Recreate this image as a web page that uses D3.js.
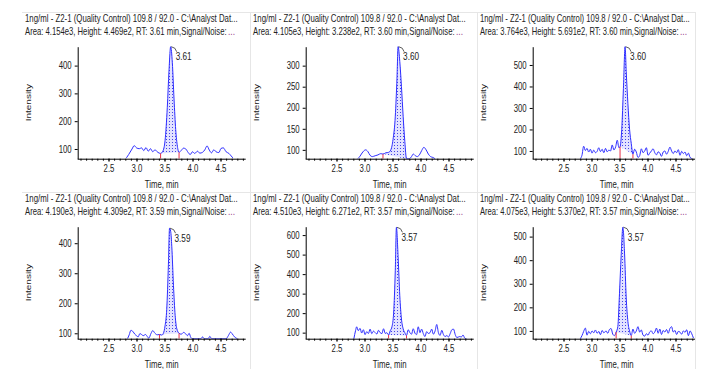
<!DOCTYPE html>
<html>
<head>
<meta charset="utf-8">
<script src="https://cdn.jsdelivr.net/npm/d3@7"></script>
<style>
  body { margin: 0; background: #fff; }
  svg { display: block; font-family: "Liberation Sans", Arial, sans-serif; }
</style>
</head>
<body>
<svg id="chart" width="707" height="369"></svg>
<script>
// --- data ---
const sampleTitle = '1ng/ml - Z2-1 (Quality Control) 109.8 / 92.0 - C:\\Analyst Dat...';
const peakInfo = [
  'Area: 4.154e3, Height: 4.469e2, RT: 3.61 min,Signal/Noise:',
  'Area: 4.105e3, Height: 3.238e2, RT: 3.60 min,Signal/Noise:',
  'Area: 3.764e3, Height: 5.691e2, RT: 3.60 min,Signal/Noise:',
  'Area: 4.190e3, Height: 4.309e2, RT: 3.59 min,Signal/Noise:',
  'Area: 4.510e3, Height: 6.271e2, RT: 3.57 min,Signal/Noise:',
  'Area: 4.075e3, Height: 5.370e2, RT: 3.57 min,Signal/Noise:'
];
const rtLabels = ['3.61', '3.60', '3.60', '3.59', '3.57', '3.57'];
const timeDomain = [1.95, 4.95];
const xTickValues = [2.5, 3.0, 3.5, 4.0, 4.5];
const yDomains = [[65, 468], [79, 345], [64, 585], [82, 455], [69, 643], [67, 542]];
const yTickValues = [
  [100, 200, 300, 400],
  [100, 150, 200, 250, 300],
  [100, 200, 300, 400, 500],
  [100, 200, 300, 400],
  [100, 200, 300, 400, 500, 600],
  [100, 200, 300, 400, 500]
];
// integration start / end (min)
const peakWindows = [[3.43, 3.76], [3.33, 3.75], [3.51, 3.74], [3.41, 3.76], [3.43, 3.75], [3.44, 3.71]];

const p1Time = [2.82, 2.86, 2.92, 2.96, 3.00, 3.05, 3.09, 3.13, 3.17, 3.21, 3.25, 3.29, 3.33, 3.38, 3.43, 3.47, 3.51, 3.55, 3.58, 3.61, 3.64, 3.67, 3.70, 3.73, 3.76, 3.80, 3.84, 3.88, 3.92, 3.96, 4.00, 4.04, 4.09, 4.13, 4.18, 4.22, 4.26, 4.30, 4.34, 4.38, 4.42, 4.47, 4.51, 4.55, 4.60, 4.65, 4.69, 4.72];
const p1Int = [68, 80, 100, 112, 104, 101, 104, 94, 105, 92, 101, 90, 97, 88, 84, 92, 130, 250, 380, 468, 410, 280, 170, 110, 88, 95, 103, 100, 88, 80, 90, 84, 92, 85, 88, 97, 111, 96, 86, 97, 90, 87, 102, 104, 90, 84, 75, 68];

const p2Time = [2.88, 2.92, 2.97, 3.02, 3.06, 3.10, 3.14, 3.19, 3.24, 3.29, 3.33, 3.38, 3.43, 3.47, 3.51, 3.55, 3.58, 3.60, 3.63, 3.66, 3.69, 3.72, 3.75, 3.80, 3.84, 3.87, 3.91, 3.94, 3.98, 4.02, 4.06, 4.10, 4.14, 4.18, 4.22, 4.26];
const p2Int = [79, 85, 95, 100, 96, 87, 84, 86, 88, 91, 90, 93, 94, 100, 125, 180, 270, 345, 310, 250, 180, 120, 79, 79, 84, 90, 86, 84, 88, 98, 106, 100, 90, 84, 82, 79];

const p3Time = [2.80, 2.83, 2.86, 2.89, 2.92, 2.95, 2.98, 3.01, 3.04, 3.07, 3.10, 3.13, 3.16, 3.19, 3.22, 3.25, 3.28, 3.31, 3.34, 3.37, 3.40, 3.43, 3.46, 3.49, 3.51, 3.54, 3.57, 3.60, 3.62, 3.65, 3.68, 3.71, 3.74, 3.77, 3.80, 3.83, 3.86, 3.89, 3.92, 3.95, 3.98, 4.01, 4.04, 4.07, 4.10, 4.13, 4.16, 4.19, 4.22, 4.25, 4.28, 4.31, 4.34, 4.37, 4.40, 4.43, 4.46, 4.49, 4.52, 4.55, 4.58, 4.61, 4.64, 4.67, 4.70, 4.73, 4.76, 4.80];
const p3Int = [64, 80, 122, 102, 112, 95, 108, 90, 104, 92, 98, 115, 97, 108, 92, 112, 96, 104, 100, 128, 105, 118, 150, 115, 120, 200, 390, 585, 470, 320, 200, 135, 85, 108, 95, 70, 78, 110, 92, 100, 115, 80, 90, 100, 110, 92, 82, 96, 90, 75, 95, 100, 85, 98, 118, 100, 88, 100, 92, 106, 80, 98, 88, 95, 78, 90, 70, 64];

const p4Time = [2.84, 2.87, 2.90, 2.94, 2.97, 3.00, 3.03, 3.06, 3.09, 3.12, 3.16, 3.19, 3.22, 3.26, 3.29, 3.33, 3.37, 3.41, 3.45, 3.48, 3.51, 3.54, 3.57, 3.59, 3.61, 3.63, 3.66, 3.69, 3.72, 3.76, 3.80, 3.84, 3.88, 3.91, 3.94, 3.97, 4.00, 4.15, 4.18, 4.21, 4.28, 4.31, 4.34, 4.60, 4.64, 4.68, 4.71, 4.75, 4.80];
const p4Int = [82, 95, 110, 105, 97, 92, 88, 99, 96, 92, 96, 90, 84, 100, 109, 100, 95, 96, 94, 100, 125, 180, 330, 450, 440, 390, 260, 160, 115, 100, 97, 103, 98, 92, 100, 86, 82, 82, 88, 82, 82, 90, 82, 82, 92, 104, 98, 88, 82];

const p5Time = [2.81, 2.84, 2.86, 2.89, 2.92, 2.95, 2.98, 3.01, 3.04, 3.07, 3.10, 3.13, 3.16, 3.19, 3.22, 3.25, 3.28, 3.31, 3.34, 3.37, 3.40, 3.43, 3.46, 3.49, 3.52, 3.55, 3.57, 3.60, 3.63, 3.66, 3.69, 3.72, 3.75, 3.78, 3.81, 3.84, 3.87, 3.90, 3.93, 3.96, 3.99, 4.02, 4.05, 4.08, 4.11, 4.14, 4.17, 4.20, 4.23, 4.26, 4.29, 4.32, 4.35, 4.38, 4.41, 4.44, 4.47, 4.50, 4.53, 4.56, 4.59, 4.62, 4.65, 4.70, 4.73, 4.76, 4.79, 4.82];
const p5Int = [69, 110, 130, 110, 122, 98, 115, 90, 105, 96, 118, 95, 108, 100, 93, 112, 100, 95, 120, 96, 100, 88, 110, 130, 200, 420, 640, 490, 290, 170, 120, 100, 85, 115, 100, 92, 120, 98, 90, 130, 100, 118, 95, 80, 105, 96, 100, 118, 92, 108, 142, 100, 86, 112, 90, 80, 85, 78, 95, 115, 118, 90, 75, 80, 78, 88, 72, 69];

const p6Time = [2.80, 2.83, 2.86, 2.89, 2.92, 2.95, 2.98, 3.01, 3.04, 3.07, 3.10, 3.13, 3.16, 3.19, 3.22, 3.26, 3.29, 3.32, 3.35, 3.38, 3.41, 3.44, 3.47, 3.50, 3.53, 3.56, 3.59, 3.62, 3.65, 3.68, 3.71, 3.74, 3.77, 3.80, 3.83, 3.86, 3.89, 3.92, 3.95, 3.98, 4.01, 4.04, 4.07, 4.10, 4.13, 4.16, 4.19, 4.22, 4.25, 4.28, 4.31, 4.34, 4.37, 4.40, 4.43, 4.46, 4.49, 4.52, 4.55, 4.58, 4.61, 4.64, 4.67, 4.70, 4.73, 4.76, 4.79, 4.82];
const p6Int = [67, 80, 98, 112, 82, 98, 88, 100, 92, 104, 90, 98, 84, 102, 92, 100, 90, 106, 110, 86, 80, 95, 118, 260, 420, 540, 430, 240, 140, 100, 80, 108, 90, 100, 118, 95, 104, 82, 78, 88, 82, 96, 100, 88, 95, 112, 90, 108, 85, 102, 95, 106, 90, 110, 118, 95, 102, 85, 98, 95, 86, 100, 94, 105, 80, 100, 88, 70];

const panelTimes = [p1Time, p2Time, p3Time, p4Time, p5Time, p6Time];
const panelInts = [p1Int, p2Int, p3Int, p4Int, p5Int, p6Int];

// --- layout ---
const colLeft = [22, 250, 477];
const rowTop = [0, 180];
const plotW = 168, plotH = 112;
const squash = 0.78;

const svg = d3.select('#chart');
const defs = svg.append('defs');

const pat = defs.append('pattern')
  .attr('id', 'dots')
  .attr('patternUnits', 'userSpaceOnUse')
  .attr('width', 3).attr('height', 3);
pat.append('rect').attr('width', 3).attr('height', 3).attr('fill', '#e2e2ff');
pat.append('rect').attr('x', 1).attr('y', 1).attr('width', 1).attr('height', 1).attr('fill', '#4545e6');

// squeeze a text horizontally so it spans `width` px from (x, y)
function fitText(sel, x, y, width) {
  const natural = sel.node().getComputedTextLength();
  sel.attr('transform', 'translate(' + x + ',' + y + ') scale(' + (width / natural) + ',1)');
}

// panel frame lines
const frame = svg.append('g').attr('stroke', '#e6e6e6').attr('stroke-width', 1);
[12.5, 192.5].forEach(yy => {
  frame.append('line').attr('x1', 22).attr('x2', 695).attr('y1', yy).attr('y2', yy);
});
[250.5, 477.5, 695.5].forEach(xx => {
  frame.append('line').attr('x1', xx).attr('x2', xx).attr('y1', 12).attr('y2', 369);
});

function drawPanel(i) {
  const col = i % 3, row = Math.floor(i / 3);
  const left = colLeft[col], top = rowTop[row];
  const ox = left + 55.7, oy = top + 46.7;
  const right = col < 2 ? colLeft[col + 1] : 695;
  const titleLen = col < 2 ? 213 : 210;

  defs.append('clipPath').attr('id', 'plot' + i)
    .append('rect').attr('x', ox).attr('y', oy - 2).attr('width', Math.min(plotW, right - ox)).attr('height', plotH + 2);

  const g = svg.append('g');

  // header lines
  const t1 = g.append('text')
    .attr('font-size', 10).attr('fill', '#222')
    .text(sampleTitle);
  fitText(t1, left + 3, top + 21.6, titleLen);
  const t2 = g.append('text')
    .attr('font-size', 10).attr('fill', '#222')
    .text(peakInfo[i]);
  fitText(t2, left + 3, top + 35.2, titleLen - 11);
  const t3 = g.append('text')
    .attr('font-size', 10).attr('fill', '#9a3a8a')
    .text('...');
  fitText(t3, left + titleLen - 7, top + 35.2, 7);

  const x = d3.scaleLinear().domain(timeDomain).range([ox, ox + plotW]);
  const y = d3.scaleLinear().domain(yDomains[i]).range([oy + plotH, oy]);
  const xEnd = Math.min(ox + plotW, right);

  const pts = panelTimes[i].map((t, k) => [t, panelInts[i][k]]);
  const [s, e] = peakWindows[i];
  const vs = pts.find(d => d[0] === s)[1];
  const ve = pts.find(d => d[0] === e)[1];
  const base = t => vs + (ve - vs) * (t - s) / (e - s);
  const peakPts = pts.filter(d => d[0] >= s && d[0] <= e);

  const plot = g.append('g').attr('clip-path', 'url(#plot' + i + ')');

  const area = d3.area()
    .x(d => x(d[0]))
    .y0(d => y(base(d[0])))
    .y1(d => y(d[1]))
    .curve(d3.curveMonotoneX);
  plot.append('path')
    .datum(peakPts)
    .attr('d', area)
    .attr('fill', 'url(#dots)');

  const line = d3.line()
    .x(d => x(d[0]))
    .y(d => y(d[1]))
    .curve(d3.curveMonotoneX);
  plot.append('path')
    .datum(pts)
    .attr('d', line)
    .attr('fill', 'none')
    .attr('stroke', '#2d2dff')
    .attr('stroke-width', 1);

  // integration markers
  [[s, vs], [e, ve]].forEach(d => {
    plot.append('line')
      .attr('x1', x(d[0])).attr('x2', x(d[0]))
      .attr('y1', y(d[1])).attr('y2', oy + plotH)
      .attr('stroke', '#e8304a').attr('stroke-width', 1);
  });

  // x axis: minor ticks every 0.1 min, labelled majors every 0.5 min
  const xMinor = x.ticks(30).filter(t => x(t) <= xEnd);
  g.append('g')
    .attr('transform', 'translate(0,' + (oy + plotH) + ')')
    .call(d3.axisBottom(x).tickValues(xMinor).tickSize(2).tickSizeOuter(0).tickFormat(''))
    .call(a => a.select('.domain').attr('d', 'M' + ox + ',0.5H' + xEnd));
  const xa = g.append('g')
    .attr('transform', 'translate(0,' + (oy + plotH) + ')')
    .call(d3.axisBottom(x).tickValues(xTickValues).tickSize(3).tickSizeOuter(0).tickFormat(d3.format('.1f')))
    .call(a => a.select('.domain').remove());
  xa.selectAll('text')
    .attr('y', 6.3).attr('font-size', 10).attr('fill', '#222')
    .attr('font-family', '"Liberation Sans", Arial, sans-serif')
    .attr('transform', 'scale(' + squash + ',1)');

  // y axis
  const ya = g.append('g')
    .attr('transform', 'translate(' + ox + ',0)')
    .call(d3.axisLeft(y).tickValues(yTickValues[i]).tickSize(3).tickSizeOuter(0));
  ya.selectAll('text')
    .attr('x', -6 / squash).attr('font-size', 10).attr('fill', '#222')
    .attr('font-family', '"Liberation Sans", Arial, sans-serif')
    .attr('transform', 'scale(' + squash + ',1)');

  // axis titles
  g.append('text')
    .attr('transform', 'translate(' + (ox + plotW / 2) + ',' + (oy + plotH + 28.9) + ') scale(' + squash + ',1)')
    .attr('text-anchor', 'middle').attr('font-size', 10).attr('fill', '#222')
    .text('Time, min');
  g.append('text')
    .attr('transform', 'translate(' + (ox - 46.4) + ',' + (oy + plotH / 2) + ') scale(' + squash + ',1) rotate(-90)')
    .attr('text-anchor', 'middle').attr('font-size', 10).attr('fill', '#222')
    .text('Intensity');

  // apex label
  const apex = peakPts.reduce((a, b) => (b[1] > a[1] ? b : a));
  const ax = x(apex[0]), ay = y(apex[1]);
  g.append('path')
    .attr('d', 'M' + (ax + 0.5) + ',' + ay + ' Q' + (ax + 5) + ',' + (ay + 0.5) + ' ' + (ax + 6) + ',' + (ay + 5))
    .attr('fill', 'none').attr('stroke', '#333').attr('stroke-width', 0.8);
  g.append('text')
    .attr('transform', 'translate(' + (ax + 5) + ',' + (ay + 13.6) + ') scale(0.82,1)')
    .attr('font-size', 10).attr('fill', '#222')
    .text(rtLabels[i]);
}

d3.range(6).forEach(drawPanel);
</script>
</body>
</html>
